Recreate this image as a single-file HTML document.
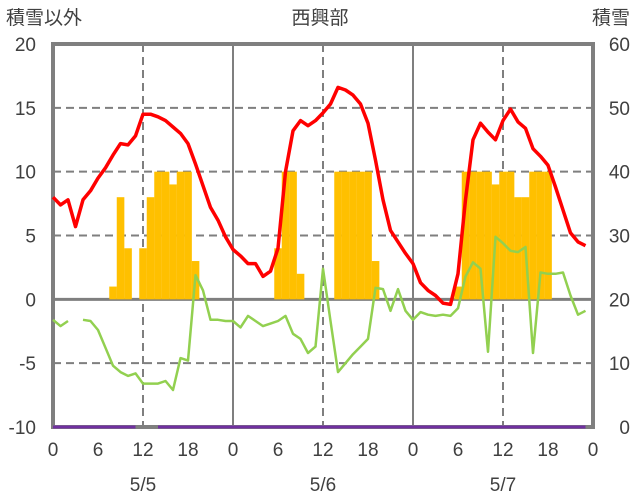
<!DOCTYPE html>
<html><head><meta charset="utf-8">
<style>
body{margin:0;background:#fff;}
svg{display:block;font-family:"Liberation Sans","Noto Sans CJK JP",sans-serif;}
</style></head>
<body>
<svg id="chart" width="636" height="501">
<text x="6" y="24" font-size="19" fill="#404040">積雪以外</text>
<text x="320" y="24" font-size="19" fill="#404040" text-anchor="middle">西興部</text>
<text x="630" y="24" font-size="19" fill="#404040" text-anchor="end">積雪</text>
<g id="grid"></g>
<g id="bars"></g>
<g id="lines"></g>
<g id="axes"></g>
</svg>
<script>
const leftTicks=[20,15,10,5,0,-5,-10];
const rightTicks=[60,50,40,30,20,10,0];
const hourLabels=[0,6,12,18,0,6,12,18,0,6,12,18,0];
const dayLabels=["5/5","5/6","5/7"];
const precip={8:1,9:8,10:4,12:4,13:8,14:10,15:10,16:9,17:10,18:10,19:3,
30:4,31:10,32:10,33:2,38:10,39:10,40:10,41:10,42:10,43:3,
54:1,55:10,56:10,57:10,58:10,59:9,60:10,61:10,62:8,63:8,64:10,65:10,66:10};
const temp=[8.0,7.4,7.8,5.7,7.8,8.5,9.5,10.3,11.3,12.2,12.1,12.8,14.5,14.5,14.3,14.0,13.5,13.0,12.2,10.6,8.9,7.2,6.2,4.9,
3.9,3.4,2.8,2.8,1.8,2.2,4.0,10.0,13.2,14.0,13.6,14.0,14.6,15.3,16.6,16.4,16.0,15.3,13.8,10.9,7.8,5.4,4.5,3.6,
2.8,1.3,0.7,0.3,-0.3,-0.4,2.0,7.8,12.5,13.8,13.1,12.5,14.0,14.9,13.9,13.4,11.8,11.2,10.5,8.8,7.0,5.2,4.5,4.2];
const green=[-1.6,-2.1,-1.7,null,-1.6,-1.7,-2.4,-3.8,-5.2,-5.7,-6.0,-5.8,-6.6,-6.6,-6.6,-6.4,-7.1,-4.6,-4.8,1.9,0.7,-1.6,-1.6,-1.7,
-1.7,-2.2,-1.3,-1.7,-2.1,-1.9,-1.7,-1.3,-2.7,-3.1,-4.2,-3.7,2.4,-1.7,-5.7,-5.0,-4.3,-3.7,-3.1,0.9,0.8,-0.9,0.8,-0.9,
-1.6,-1.0,-1.2,-1.3,-1.2,-1.3,-0.7,1.8,2.9,2.4,-4.1,4.9,4.4,3.8,3.7,4.1,-4.2,2.1,2.0,2.0,2.1,0.3,-1.2,-0.9];
const snow=[];for(let i=0;i<72;i++)snow.push(0);snow[12]=null;snow[13]=null;

const X0=53,X1=593,Y0=44,Y1=427;
const x=h=>X0+(X1-X0)*h/72;
const y=v=>Y1-(Y1-Y0)*(v+10)/30;
const yr=v=>Y1-(Y1-Y0)*v/60;
const NS="http://www.w3.org/2000/svg";
function mk(tag,attrs,parent){const e=document.createElementNS(NS,tag);for(const k in attrs)e.setAttribute(k,attrs[k]);parent.appendChild(e);return e;}
const grid=document.getElementById('grid'),bars=document.getElementById('bars'),lines=document.getElementById('lines'),axes=document.getElementById('axes');
leftTicks.forEach(v=>{if(v===20||v===-10||v===0)return;
 const l=mk('line',{x1:X0,x2:X1,y1:y(v),y2:y(v),stroke:'#7f7f7f','stroke-width':2,'stroke-dasharray':'8,5'},grid);
 
 });
for(let d=0;d<3;d++){
 const l=mk('line',{x1:x(d*24+12),x2:x(d*24+12),y1:Y0,y2:Y1,stroke:'#7f7f7f','stroke-width':2,'stroke-dasharray':'8,5'},grid);
 
 
 if(d>0){const m=mk('line',{x1:x(d*24),x2:x(d*24),y1:Y0,y2:Y1,stroke:'#7f7f7f','stroke-width':2},grid);
 
 }
}
for(const h in precip){
 const hv=+h;
 const r=mk('rect',{x:x(hv)-3.75,y:y(precip[h]),width:7.6,height:y(0)-y(precip[h]),fill:'#ffc000'},bars);
 
 
}
const zl=mk('line',{x1:X0,x2:X1,y1:y(0),y2:y(0),stroke:'#7f7f7f','stroke-width':3},grid);


function path(arr,fx,fy){let d='',pen=false;arr.forEach((v,i)=>{if(v===null){pen=false;return;}d+=(pen?'L':'M')+fx(i).toFixed(1)+','+fy(v).toFixed(1);pen=true;});return d;}
const pg=mk('path',{d:path(green,x,y),fill:'none',stroke:'#92d050','stroke-width':2.5,'stroke-linejoin':'round'},lines);


const pt=mk('path',{d:path(temp,x,y),fill:'none',stroke:'#ff0000','stroke-width':3.5,'stroke-linejoin':'round'},lines);


const border=mk('rect',{x:X0,y:Y0,width:X1-X0,height:Y1-Y0,fill:'none',stroke:'#7f7f7f','stroke-width':4},axes);


const ps=mk('path',{d:path(snow,x,yr),fill:'none',stroke:'#7030a0','stroke-width':3},lines);


lines.parentNode.appendChild(lines);
leftTicks.forEach(v=>{const t=mk('text',{x:36,y:y(v)+7,'font-size':19,fill:'#404040','text-anchor':'end'},axes);t.textContent=v;
 
 });
rightTicks.forEach(v=>{const t=mk('text',{x:630,y:yr(v)+7,'font-size':19,fill:'#404040','text-anchor':'end'},axes);t.textContent=v;
 
 });
hourLabels.forEach((v,i)=>{const t=mk('text',{x:x(i*6),y:456,'font-size':19,fill:'#404040','text-anchor':'middle'},axes);t.textContent=v;
 
 });
dayLabels.forEach((v,i)=>{const t=mk('text',{x:x(i*24+12),y:491,'font-size':19,fill:'#404040','text-anchor':'middle'},axes);t.textContent=v;
 
 });
</script>
</body></html>
